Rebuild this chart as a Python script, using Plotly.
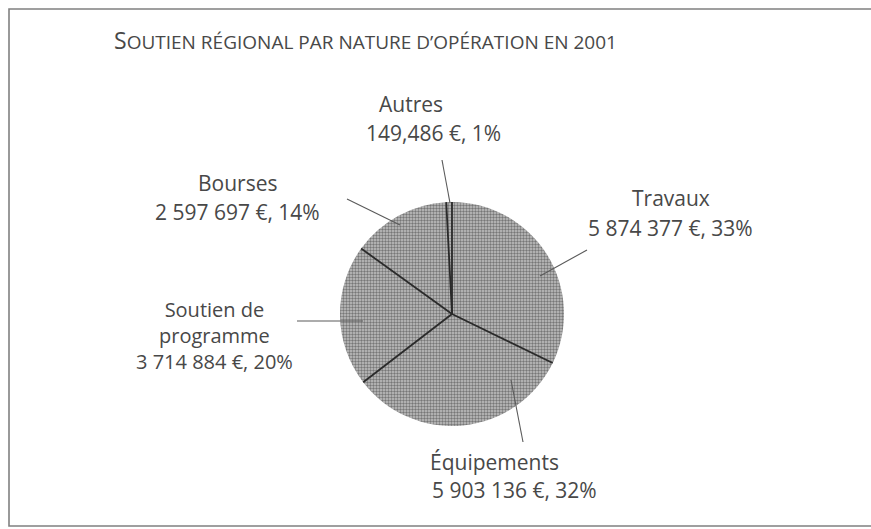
import math
import plotly.graph_objects as go

# ---- data ----
categories = ["Travaux", "Équipements", "Soutien de programme", "Bourses", "Autres"]
values = [5874377, 5903136, 3714884, 2597697, 149486]
value_text = ["5 874 377 €, 33%", "5 903 136 €, 32%", "3 714 884 €, 20%",
              "2 597 697 €, 14%", "149,486 €, 1%"]
title_text = "SOUTIEN RÉGIONAL PAR NATURE D’OPÉRATION EN 2001"

# ---- layout constants (pixels) ----
W, H = 871, 529
CX, CY, R = 452, 314, 112
FONT = "Open Sans"
TXT = "#484848"
LABEL_SIZE = 21


def px(x):
    return x / W


def py(y):
    return 1 - y / H


fig = go.Figure()
fig.add_trace(go.Pie(
    labels=categories,
    values=values,
    sort=False,
    direction="clockwise",
    rotation=0,
    textinfo="none",
    hoverinfo="label+value+percent",
    marker=dict(
        colors=["#b0b0b0"] * len(values),
        line=dict(width=0),
        pattern=dict(shape=".", fgcolor="#777777", bgcolor="#c4c4c4",
                     size=3, solidity=0.5),
    ),
    domain=dict(x=[px(CX - R), px(CX + R)], y=[py(CY + R), py(CY - R)]),
    showlegend=False,
))

shapes = []
# slice separators computed from the data
total = sum(values)
cum = 0
for v in values:
    cum += v
    ang = 2 * math.pi * cum / total
    x1 = CX + R * math.sin(ang)
    y1 = CY - R * math.cos(ang)
    shapes.append(dict(type="line", xref="paper", yref="paper",
                       x0=px(CX), y0=py(CY), x1=px(x1), y1=py(y1),
                       line=dict(color="#2a2a2a", width=1.8)))

# leader lines (label positions)
leaders = {
    "Travaux": ((587, 250), (540, 276)),
    "Équipements": ((523, 442), (511, 380)),
    "Soutien de programme": ((297, 321), (363, 321)),
    "Bourses": ((347, 199), (400, 225)),
    "Autres": ((442, 160), (450, 203)),
}
for (a, b) in leaders.values():
    shapes.append(dict(type="line", xref="paper", yref="paper",
                       x0=px(a[0]), y0=py(a[1]), x1=px(b[0]), y1=py(b[1]),
                       line=dict(color="#5a5a5a", width=1.1)))

# frame
shapes.append(dict(type="rect", xref="paper", yref="paper",
                   x0=px(9), y0=py(526), x1=px(874), y1=py(9),
                   line=dict(color="#808080", width=1.6)))

# label blocks: (text, x center, y center, size)
label_pos = {
    "Travaux": [("Travaux", 671, 198, LABEL_SIZE), (value_text[0], 670, 228, LABEL_SIZE)],
    "Équipements": [("Équipements", 495, 462, LABEL_SIZE), (value_text[1], 514, 490, LABEL_SIZE)],
    "Soutien de programme": [("Soutien de<br>programme<br>" + value_text[2], 214, 335, 20)],
    "Bourses": [("Bourses", 237, 183, LABEL_SIZE), (value_text[3], 237, 212, LABEL_SIZE)],
    "Autres": [("Autres", 411, 104, LABEL_SIZE), (value_text[4], 433, 133, LABEL_SIZE)],
}
annotations = []
for cat in categories:
    for (t, x, y, s) in label_pos[cat]:
        annotations.append(dict(text=t, x=px(x), y=py(y), xref="paper", yref="paper",
                                xanchor="center", yanchor="middle", showarrow=False,
                                align="center",
                                font=dict(family=FONT, size=s, color=TXT)))


def small_caps(s, big=23, small=19):
    html = ""
    for i, ch in enumerate(s):
        size = big if i == 0 else small
        html += f"<span style='font-size:{size}px'>{ch}</span>"
    return html


annotations.append(dict(text=small_caps(title_text), x=px(365), y=py(40),
                        xref="paper", yref="paper", xanchor="center", yanchor="middle",
                        showarrow=False, font=dict(family=FONT, size=23, color=TXT)))

fig.update_layout(
    width=W, height=H,
    margin=dict(l=0, r=0, t=0, b=0),
    paper_bgcolor="white",
    plot_bgcolor="white",
    shapes=shapes,
    annotations=annotations,
)

fig.write_html("out.html", config={"displayModeBar": False},
               post_script="document.body.style.margin='0';document.body.style.overflow='hidden';")
